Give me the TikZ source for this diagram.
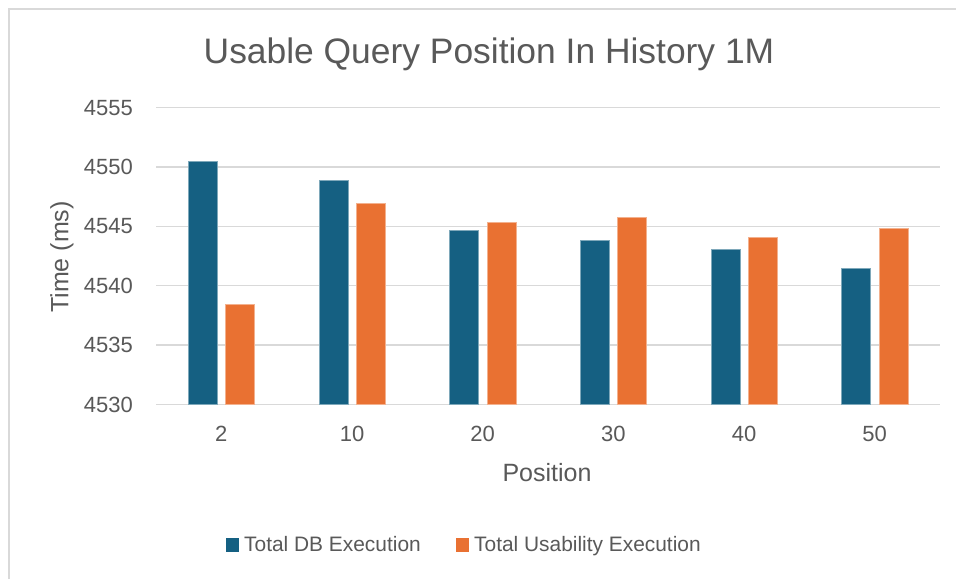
\documentclass[tikz,border=0pt]{standalone}
\usepackage{fontspec}
\setmainfont{Liberation Sans}
\definecolor{dbblue}{HTML}{156082}
\definecolor{usorange}{HTML}{E97132}
\definecolor{txtgray}{HTML}{595959}
\definecolor{gridgray}{HTML}{D9D9D9}
\begin{document}
\begin{tikzpicture}[x=1pt,y=-1pt,
  tick/.style={inner sep=0pt,text=txtgray,font=\fontsize{22}{26}\selectfont},
  legtext/.style={inner sep=0pt,text=txtgray,font=\fontsize{20.9}{24}\selectfont},
  axtitle/.style={inner sep=0pt,text=txtgray,font=\fontsize{25}{30}\selectfont},
  charttitle/.style={inner sep=0pt,text=txtgray,font=\fontsize{35.4}{40}\selectfont},
  gridline/.style={draw=gridgray,line width=1.5pt},
  bluebar/.style={fill=dbblue,draw=dbblue!55!white,line width=0.6pt},
  orangebar/.style={fill=usorange,draw=usorange!55!white,line width=0.6pt}]
\useasboundingbox (0,0) rectangle (956,579);
\fill[white] (0,0) rectangle (956,579);
% chart border
\draw[draw=gridgray,line width=1.3pt] (9,579) -- (9,9) -- (956,9);
% title
\node[charttitle,anchor=base] (title) at (489,63) {Usable Query Position In History 1M};
% gridlines and y tick labels
\foreach \k/\lab in {0/4530,1/4535,2/4540,3/4545,4/4550,5/4555}{
  \draw[gridline] (156,{404.5-59.4*\k}) -- (940,{404.5-59.4*\k});
  \node[tick,anchor=base east] (yl\k) at (133,{404.5-59.4*\k+7.5}) {\lab};
}
% bars and x tick labels
\foreach \i/\cat/\b/\o in {1/2/4550.5/4538.4,2/10/4548.9/4546.9,3/20/4544.7/4545.3,4/30/4543.8/4545.8,5/40/4543.1/4544.1,6/50/4541.5/4544.8}{
  \pgfmathsetmacro\c{156+130.67*(\i-0.5)}
  \filldraw[bluebar] ({\c-33.2},404) rectangle ({\c-4},{404.5-(\b-4530)*11.88});
  \filldraw[orangebar] ({\c+4.2},404) rectangle ({\c+33.4},{404.5-(\o-4530)*11.88});
  \node[tick,anchor=base] (xl\i) at (\c,441.7) {\cat};
}
% axis titles
\node[axtitle,anchor=base] (xtitle) at (547,481.7) {Position};
\node[axtitle,anchor=base,rotate=90] (ytitle) at (68.3,257) {Time (ms)};
% legend
\fill[dbblue] (226,538) rectangle (239,552);
\node[legtext,anchor=base west] (leg1) at (244,551.7) {Total DB Execution};
\fill[usorange] (456,538) rectangle (469,552);
\node[legtext,anchor=base west] (leg2) at (474,551.7) {Total Usability Execution};
\end{tikzpicture}
\end{document}
